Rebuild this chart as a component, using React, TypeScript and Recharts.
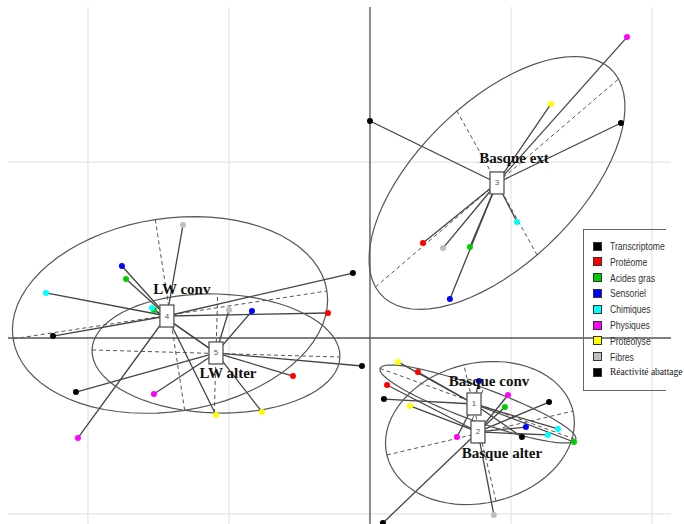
import React from 'react';
import { ScatterChart, Scatter, XAxis, YAxis, ReferenceLine } from 'recharts';

const TABLES = ['Transcriptome', 'Protéome', 'Acides gras', 'Sensoriel', 'Chimiques', 'Physiques', 'Protéolyse', 'Fibres', 'Réactivité abattage'];
const TABLE_COLORS = ['#000000', '#FF0000', '#00CD00', '#0000FF', '#00FFFF', '#FF00FF', '#FFFF00', '#BEBEBE', '#000000'];

const GROUPS = ['Basque conv', 'Basque alter', 'Basque ext', 'LW conv', 'LW alter'];
const GROUP_X = [0.738, 0.766, 0.901, -1.44, -1.092];
const GROUP_Y = [-0.375, -0.534, 0.881, 0.125, -0.085];

// partial individuals, one row per group, columns in TABLES order
const PARTIAL_X = [
  [1.078, 0.34, 1.447, 0.773, 1.333, 0.617, 0.199, 0.752, 0.099],
  [1.27, 0.121, 0.957, 1.106, 1.262, 0.979, 0.284, 0.879, 0.092],
  [1.78, 0.376, 0.709, 0.567, 1.043, 1.823, 1.284, 0.518, 0.0],
  [-0.121, -0.298, -1.73, -1.759, -2.298, -2.071, -1.092, -1.326, -2.248],
  [-0.057, -0.546, -1.532, -0.837, -1.546, -1.532, -0.766, -1.0, -2.085],
];
const PARTIAL_Y = [
  [-0.563, -0.193, -0.591, -0.244, -0.517, -0.563, -0.136, -0.341, -0.347],
  [-0.364, -0.267, -0.392, -0.506, -0.551, -0.324, -0.386, -1.006, -1.051],
  [1.222, 0.54, 0.517, 0.222, 0.659, 1.71, 1.33, 0.511, 1.233],
  [0.369, 0.142, 0.335, 0.409, 0.256, -0.568, -0.438, 0.642, 0.011],
  [-0.159, -0.216, 0.159, 0.153, 0.17, -0.318, -0.42, 0.159, -0.307],
];

// confidence ellipses: centre, end of first axis, end of second axis
const ELL_CX = [0.766, 0.78, 0.901, -1.418, -1.092];
const ELL_CY = [-0.375, -0.54, 0.881, 0.131, -0.088];
const ELL_AX = [1.46, 1.44, 1.763, -0.305, -0.213];
const ELL_AY = [-0.577, -0.415, 1.472, 0.267, -0.108];
const ELL_BX = [0.807, 0.666, 0.617, -1.522, -1.08];
const ELL_BY = [-0.284, -0.153, 1.29, 0.673, 0.25];

const X_DOMAIN = [-2.567, 2.135];
const Y_DOMAIN = [-1.057, 1.881];

// pixel offsets of the group names from their box
const LABEL_DX = [15, 24, 17, 15, 12];
const LABEL_DY = [-23, 21, -25, -27, 20];

const LINE = '#444';

const ellipsePath = (i: number) => {
  const pts = [];
  for (let k = 0; k <= 72; k++) {
    const t = (k / 72) * Math.PI * 2;
    pts.push({
      x: ELL_CX[i] + (ELL_AX[i] - ELL_CX[i]) * Math.cos(t) + (ELL_BX[i] - ELL_CX[i]) * Math.sin(t),
      y: ELL_CY[i] + (ELL_AY[i] - ELL_CY[i]) * Math.cos(t) + (ELL_BY[i] - ELL_CY[i]) * Math.sin(t),
    });
  }
  return pts;
};

const partials = GROUPS.flatMap((g, gi) =>
  TABLES.map((t, ti) => ({ x: PARTIAL_X[gi][ti], y: PARTIAL_Y[gi][ti], color: TABLE_COLORS[ti] }))
);

const groups = GROUPS.map((name, i) => ({ x: GROUP_X[i], y: GROUP_Y[i], name, idx: i }));

const Dot = (p: any) => <circle cx={p.cx} cy={p.cy} r={3} fill={p.payload.color} />;

const GroupBox = (p: any) => {
  const i = p.payload.idx;
  return (
    <g>
      <rect x={p.cx - 7} y={p.cy - 11} width={14} height={22} fill="#fff" stroke="#555" strokeWidth={1.3} />
      <text x={p.cx} y={p.cy} textAnchor="middle" dominantBaseline="central" fontSize={8} fill="#555" fontFamily="'Liberation Sans', sans-serif">
        {i + 1}
      </text>
      <text x={p.cx + LABEL_DX[i]} y={p.cy + LABEL_DY[i]} textAnchor="middle" dominantBaseline="central" fontSize={15} fontWeight="bold" fill="#111" fontFamily="'Liberation Serif', serif">
        {p.payload.name}
      </text>
    </g>
  );
};

const Legend = () => (
  <div style={{ position: 'absolute', left: 583, top: 229, width: 82, height: 160, borderTop: '1.5px solid #666', borderLeft: '1.5px solid #666', borderBottom: '1.5px solid #666' }}>
    {TABLES.map((t, i) => (
      <div key={t} style={{ position: 'absolute', left: 9, top: 10 + i * 15.8, height: 12, display: 'flex', alignItems: 'center', whiteSpace: 'nowrap' }}>
        <span style={{ width: 7, height: 7, background: TABLE_COLORS[i], border: '1px solid #333', display: 'inline-block' }} />
        <span style={{
          marginLeft: 8,
          display: 'inline-block',
          fontSize: i === 8 ? 9.5 : 10.5,
          color: i === 8 ? '#111' : '#333',
          fontFamily: i === 8 ? "'Liberation Serif', serif" : "'Liberation Sans', sans-serif",
          // the legend font is a narrow face
          transform: i === 8 ? 'none' : 'scaleX(0.82)',
          transformOrigin: 'left center',
        }}>{t}</span>
      </div>
    ))}
  </div>
);

export default function App() {
  return (
    <div style={{ position: 'absolute', left: 0, top: 0, width: 684, height: 524, background: '#fff', overflow: 'hidden' }}>
      <ScatterChart width={684} height={524} margin={{ top: 7, right: 13, bottom: 0, left: 8 }}>
        <XAxis type="number" dataKey="x" domain={X_DOMAIN} hide allowDataOverflow />
        <YAxis type="number" dataKey="y" domain={Y_DOMAIN} hide allowDataOverflow />
        {[-2, -1, 1, 2].map((v) => (
          <ReferenceLine key={'gx' + v} x={v} stroke="#e4e4e4" strokeWidth={1.2} />
        ))}
        {[1, -1].map((v) => (
          <ReferenceLine key={'gy' + v} y={v} stroke="#e4e4e4" strokeWidth={1.2} />
        ))}
        <ReferenceLine x={0} stroke="#8a8a8a" strokeWidth={2} />
        <ReferenceLine y={0} stroke="#555" strokeWidth={1.5} />
        {GROUPS.map((g, i) => (
          <ReferenceLine key={'ma' + i} segment={[{ x: 2 * ELL_CX[i] - ELL_AX[i], y: 2 * ELL_CY[i] - ELL_AY[i] }, { x: ELL_AX[i], y: ELL_AY[i] }]} stroke="#555" strokeDasharray="4 3" />
        ))}
        {GROUPS.map((g, i) => (
          <ReferenceLine key={'mi' + i} segment={[{ x: 2 * ELL_CX[i] - ELL_BX[i], y: 2 * ELL_CY[i] - ELL_BY[i] }, { x: ELL_BX[i], y: ELL_BY[i] }]} stroke="#555" strokeDasharray="4 3" />
        ))}
        {GROUPS.flatMap((g, gi) =>
          TABLES.map((t, ti) => (
            <ReferenceLine key={'s' + gi + '-' + ti} segment={[{ x: GROUP_X[gi], y: GROUP_Y[gi] }, { x: PARTIAL_X[gi][ti], y: PARTIAL_Y[gi][ti] }]} stroke={LINE} strokeWidth={1.3} />
          ))
        )}
        {GROUPS.map((g, i) => (
          <Scatter key={'e' + i} data={ellipsePath(i)} line={{ stroke: '#555', strokeWidth: 1.2 }} lineType="joint" shape={() => <g />} isAnimationActive={false} />
        ))}
        <Scatter data={partials} shape={Dot} isAnimationActive={false} />
        <Scatter data={groups} shape={GroupBox} isAnimationActive={false} />
      </ScatterChart>
      <Legend />
    </div>
  );
}
